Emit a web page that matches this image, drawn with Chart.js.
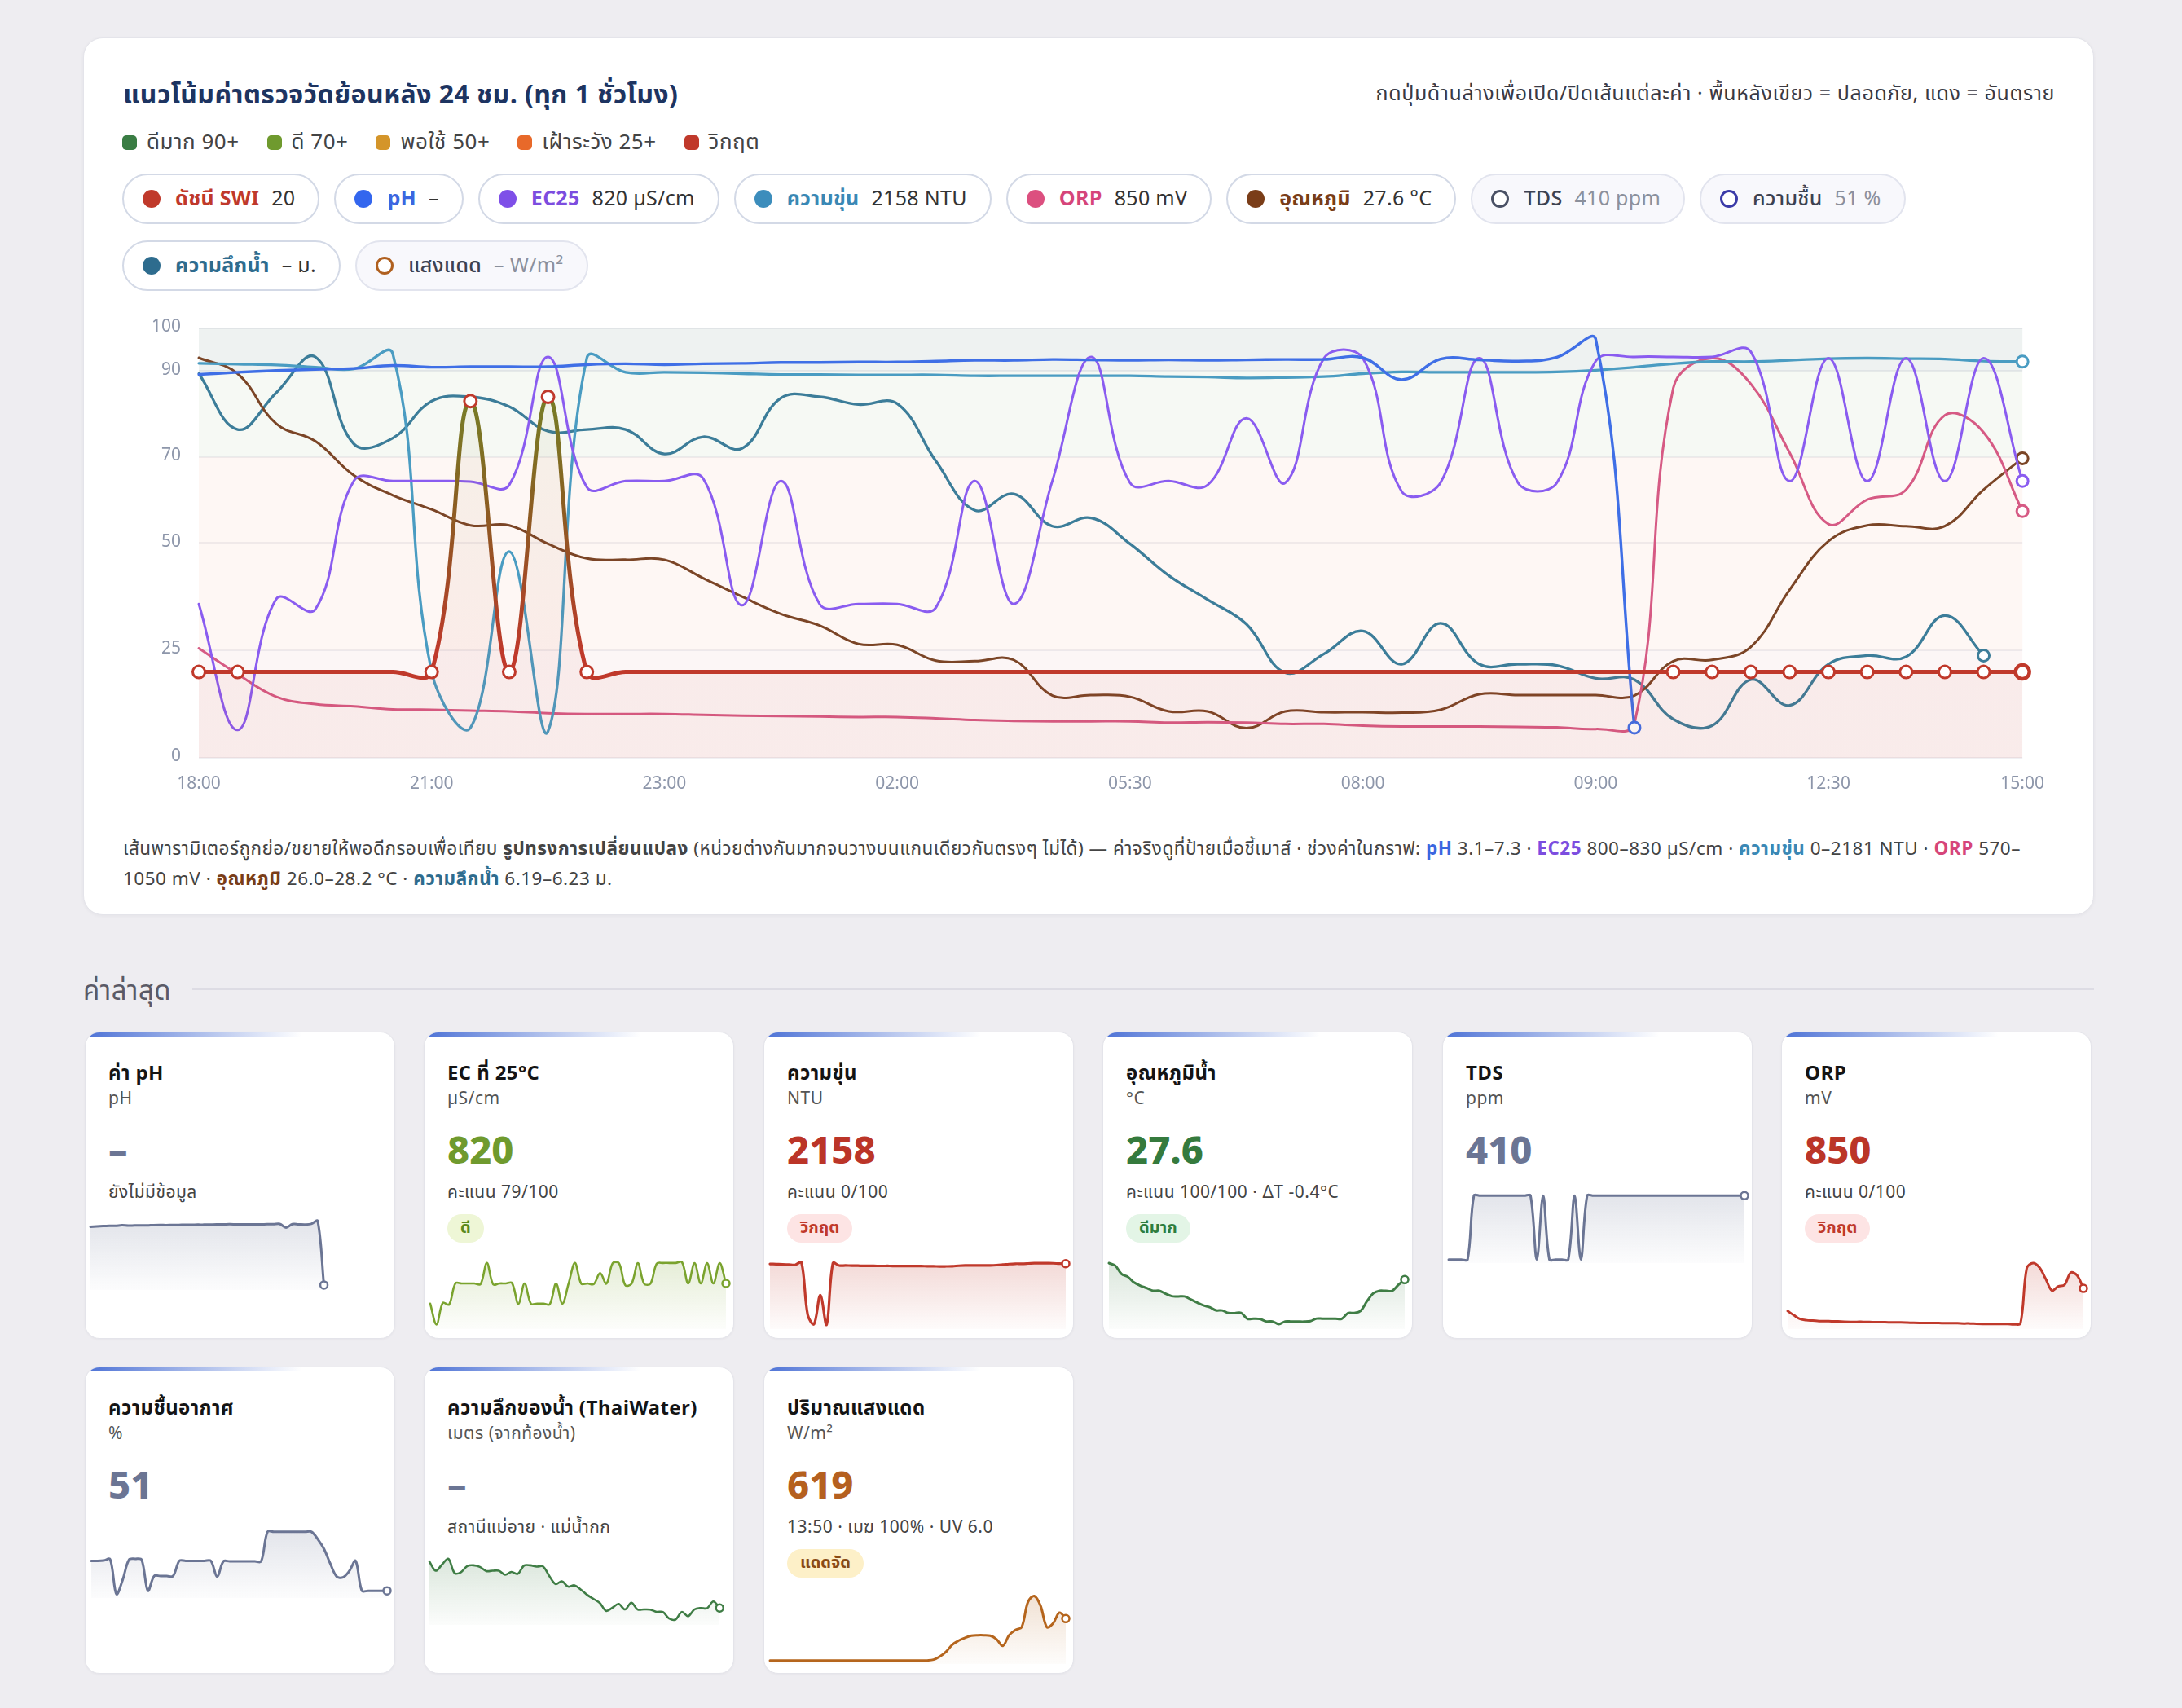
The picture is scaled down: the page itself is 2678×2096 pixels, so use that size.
<!DOCTYPE html>
<html lang="th">
<head>
<meta charset="utf-8">
<script src="https://cdn.jsdelivr.net/npm/chart.js@4.4.1/dist/chart.umd.min.js"></script>
<style>
html,body{margin:0;padding:0;}
body{width:2678px;height:2096px;background:#eeedf1;position:relative;overflow:hidden;
  font-family:"Noto Sans Thai","Noto Sans",sans-serif;color:#222;}
.main{position:absolute;left:102px;top:46px;width:2468px;height:1077px;background:#fff;border-radius:24px;
  border:1px solid #e4e4ea;box-sizing:border-box;box-shadow:0 1px 4px rgba(30,30,60,0.05);}
.title{position:absolute;left:151px;top:95px;font-size:32px;line-height:44px;font-weight:700;color:#1d3461;white-space:nowrap;letter-spacing:0.45px;}
.hint{position:absolute;right:156px;top:98px;font-size:25px;line-height:34px;color:#3a3a44;white-space:nowrap;letter-spacing:0.6px;}
.legend{position:absolute;left:150px;top:156px;height:38px;display:flex;align-items:center;gap:34px;font-size:26px;color:#444;white-space:nowrap;letter-spacing:0.5px;}
.legend span.sq{display:inline-block;width:18px;height:18px;border-radius:5px;margin-right:12px;vertical-align:-1px;}
.chips{position:absolute;left:150px;top:213px;width:2370px;display:flex;flex-wrap:wrap;gap:20px 18px;}
.chip{height:62px;box-sizing:border-box;border:2px solid #d3d9e6;border-radius:31px;padding:0 28px 0 23px;display:flex;align-items:center;background:#fff;font-size:25px;white-space:nowrap;letter-spacing:0.3px;}
.chip .dot{width:22px;height:22px;border-radius:50%;margin-right:18px;box-sizing:border-box;flex:none;}
.chip b{font-weight:700;margin-right:15px;}
.chip .val{color:#333;}
.chip.off{background:#f8f8fc;border-color:#e2e4ee;}
.chip.off .dot{background:#fff;border:3.5px solid;}
.chip.off b{font-weight:500;color:#3c4150;}
.chip.off .val{color:#8b909c;}
.chartbox{position:absolute;left:150px;top:368px;width:2380px;height:622px;}
.note{position:absolute;left:151px;top:1024px;width:2372px;font-size:22.5px;line-height:37px;color:#444;letter-spacing:0.5px;}
.note b{font-weight:700;}
.sec{position:absolute;left:102px;top:1196px;font-size:33px;line-height:42px;color:#5a5a66;letter-spacing:0.5px;}
.secline{position:absolute;left:236px;top:1213px;width:2334px;height:2px;background:#dddce4;}
.mcard{position:absolute;width:381px;height:377px;background:#fff;border-radius:18px;border:1px solid #e4e4ea;
  box-sizing:border-box;overflow:hidden;padding-top:36px;box-shadow:0 1px 3px rgba(30,30,60,0.04);}
.mcard .accent{position:absolute;left:0;top:0;width:100%;height:5px;
  background:linear-gradient(90deg,#4d72d6 0%,rgba(110,140,220,0.55) 38%,rgba(255,255,255,0) 70%);}
.mcard .t{margin-left:28px;font-size:24px;font-weight:700;line-height:30px;color:#141414;white-space:nowrap;letter-spacing:0.4px;}
.mcard .u{margin-left:28px;font-size:21px;line-height:26px;color:#555;margin-top:3px;white-space:nowrap;letter-spacing:0.5px;}
.mcard .v{margin-left:28px;font-size:47px;font-weight:800;line-height:60px;margin-top:22px;}
.mcard .s{margin-left:28px;font-size:21px;line-height:26px;color:#444;margin-top:7px;white-space:nowrap;letter-spacing:0.5px;}
.mcard .bw{margin:13px 0 3px 28px;height:35px;}
.mcard .b{display:inline-block;height:35px;line-height:35px;padding:0 16px;border-radius:18px;font-size:20px;font-weight:700;}
.mcard canvas{display:block;margin-top:10px;}
</style>
</head>
<body>
<div class="main"></div>
<div class="title">แนวโน้มค่าตรวจวัดย้อนหลัง 24 ชม. (ทุก 1 ชั่วโมง)</div>
<div class="hint">กดปุ่มด้านล่างเพื่อเปิด/ปิดเส้นแต่ละค่า · พื้นหลังเขียว = ปลอดภัย, แดง = อันตราย</div>
<div class="legend">
  <div><span class="sq" style="background:#3a7d44"></span>ดีมาก 90+</div>
  <div><span class="sq" style="background:#6f9a2e"></span>ดี 70+</div>
  <div><span class="sq" style="background:#d4952a"></span>พอใช้ 50+</div>
  <div><span class="sq" style="background:#e8692a"></span>เฝ้าระวัง 25+</div>
  <div><span class="sq" style="background:#c0392b"></span>วิกฤต</div>
</div>
<div class="chips">
  <div class="chip"><span class="dot" style="background:#c0392b"></span><b style="color:#c0392b">ดัชนี SWI</b><span class="val">20</span></div>
  <div class="chip"><span class="dot" style="background:#3366ee"></span><b style="color:#3b66e0">pH</b><span class="val">–</span></div>
  <div class="chip"><span class="dot" style="background:#7e4fe8"></span><b style="color:#7c4ddf">EC25</b><span class="val">820 µS/cm</span></div>
  <div class="chip"><span class="dot" style="background:#3c8dbc"></span><b style="color:#3a88b5">ความขุ่น</b><span class="val">2158 NTU</span></div>
  <div class="chip"><span class="dot" style="background:#dc4f7f"></span><b style="color:#d6457a">ORP</b><span class="val">850 mV</span></div>
  <div class="chip"><span class="dot" style="background:#7a3d18"></span><b style="color:#7a3d18">อุณหภูมิ</b><span class="val">27.6 °C</span></div>
  <div class="chip off"><span class="dot" style="border-color:#4a5165"></span><b>TDS</b><span class="val">410 ppm</span></div>
  <div class="chip off"><span class="dot" style="border-color:#3b3ba8"></span><b>ความชื้น</b><span class="val">51 %</span></div>
  <div class="chip"><span class="dot" style="background:#2e6c8e"></span><b style="color:#2e6c8e">ความลึกน้ำ</b><span class="val">– ม.</span></div>
  <div class="chip off"><span class="dot" style="border-color:#b0601f"></span><b>แสงแดด</b><span class="val">– W/m²</span></div>
</div>
<div class="chartbox"><canvas id="trend" width="2380" height="622"></canvas></div>
<div class="note">เส้นพารามิเตอร์ถูกย่อ/ขยายให้พอดีกรอบเพื่อเทียบ <b>รูปทรงการเปลี่ยนแปลง</b> (หน่วยต่างกันมากจนวางบนแกนเดียวกันตรงๆ ไม่ได้) — ค่าจริงดูที่ป้ายเมื่อชี้เมาส์ · ช่วงค่าในกราฟ: <b style="color:#3b66e0">pH</b> 3.1–7.3 · <b style="color:#7c4ddf">EC25</b> 800–830 µS/cm · <b style="color:#3a88b5">ความขุ่น</b> 0–2181 NTU · <b style="color:#d6457a">ORP</b> 570–1050 mV · <b style="color:#7a3d18">อุณหภูมิ</b> 26.0–28.2 °C · <b style="color:#2e6c8e">ความลึกน้ำ</b> 6.19–6.23 ม.</div>
<div class="sec">ค่าล่าสุด</div>
<div class="secline"></div>

<div class="mcard" style="left:104px;top:1266px"><div class="accent"></div>
  <div class="t">ค่า pH</div><div class="u">pH</div><div class="v" style="color:#6b7594">–</div>
  <div class="s">ยังไม่มีข้อมูล</div><canvas id="sp-ph" width="379" height="105"></canvas></div>
<div class="mcard" style="left:520px;top:1266px"><div class="accent"></div>
  <div class="t">EC ที่ 25°C</div><div class="u">µS/cm</div><div class="v" style="color:#6f9a2e">820</div>
  <div class="s">คะแนน 79/100</div><div class="bw"><span class="b" style="background:#eef6d6;color:#5b8a1f">ดี</span></div>
  <canvas id="sp-ec" width="379" height="105"></canvas></div>
<div class="mcard" style="left:937px;top:1266px"><div class="accent"></div>
  <div class="t">ความขุ่น</div><div class="u">NTU</div><div class="v" style="color:#bb3528">2158</div>
  <div class="s">คะแนน 0/100</div><div class="bw"><span class="b" style="background:#fde4e4;color:#c0392b">วิกฤต</span></div>
  <canvas id="sp-turb" width="379" height="105"></canvas></div>
<div class="mcard" style="left:1353px;top:1266px"><div class="accent"></div>
  <div class="t">อุณหภูมิน้ำ</div><div class="u">°C</div><div class="v" style="color:#357a3d">27.6</div>
  <div class="s">คะแนน 100/100 · ΔT -0.4°C</div><div class="bw"><span class="b" style="background:#e3f5e6;color:#2e7d3e">ดีมาก</span></div>
  <canvas id="sp-temp" width="379" height="105"></canvas></div>
<div class="mcard" style="left:1770px;top:1266px"><div class="accent"></div>
  <div class="t">TDS</div><div class="u">ppm</div><div class="v" style="color:#6b7594">410</div>
  <canvas id="sp-tds" width="379" height="105"></canvas></div>
<div class="mcard" style="left:2186px;top:1266px"><div class="accent"></div>
  <div class="t">ORP</div><div class="u">mV</div><div class="v" style="color:#bb3528">850</div>
  <div class="s">คะแนน 0/100</div><div class="bw"><span class="b" style="background:#fde4e4;color:#c0392b">วิกฤต</span></div>
  <canvas id="sp-orp" width="379" height="105"></canvas></div>
<div class="mcard" style="left:104px;top:1677px"><div class="accent"></div>
  <div class="t">ความชื้นอากาศ</div><div class="u">%</div><div class="v" style="color:#6b7594">51</div>
  <canvas id="sp-hum" width="379" height="105"></canvas></div>
<div class="mcard" style="left:520px;top:1677px"><div class="accent"></div>
  <div class="t">ความลึกของน้ำ (ThaiWater)</div><div class="u">เมตร (จากท้องน้ำ)</div><div class="v" style="color:#6b7594">–</div>
  <div class="s">สถานีแม่อาย · แม่น้ำกก</div><canvas id="sp-depth" width="379" height="105"></canvas></div>
<div class="mcard" style="left:937px;top:1677px"><div class="accent"></div>
  <div class="t">ปริมาณแสงแดด</div><div class="u">W/m²</div><div class="v" style="color:#b5601f">619</div>
  <div class="s">13:50 · เมฆ 100% · UV 6.0</div><div class="bw"><span class="b" style="background:#fdf0c8;color:#8a4b14">แดดจัด</span></div>
  <canvas id="sp-sun" width="379" height="105"></canvas></div>

<script>
// ---------- data ----------
const timeLabels = ['18:00','18:30','19:00','19:30','20:00','20:30','21:00','21:20','21:40','22:00','22:20','22:40',
  '23:00','23:30','00:00','00:30','01:00','01:30','02:00','02:30','03:00','03:30','04:00','04:30',
  '05:30','06:00','06:30','07:00','07:20','07:40','08:00','08:10','08:20','08:30','08:40','08:50',
  '09:00','09:30','10:00','10:30','11:00','11:30','12:30','13:00','13:30','14:00','14:30','15:00'];
const labelStep = 6;
const yTickValues = [0, 25, 50, 70, 90, 100];
const bandLimits = [0, 25, 70, 90, 100];

const swiScore = [20,20,20,20,20,20,20,83,20,84,20,20,20,20,20,20,20,20,20,20,20,20,20,20,
  20,20,20,20,20,20,20,20,20,20,20,20,20,20,20,20,20,20,20,20,20,20,20,20];
const swiMarked = [0,1,6,7,8,9,10,38,39,40,41,42,43,44,45,46,47];

const phLine = [89.2,89.7,90.1,90.4,90.6,91.3,90.9,91.0,91.0,91.0,91.5,91.7,91.5,91.7,91.8,92.0,
  92.0,92.1,92.1,92.3,92.5,92.5,92.7,92.6,92.5,92.6,92.5,92.6,92.7,92.7,93.1,88.0,
  92.8,92.6,92.3,93.2,97.5,7.0,null,null,null,null,null,null,null,null,null,null];
const ec25Line = [35.8,6.5,37,34.5,64.5,64.4,64.4,64.3,63.5,93.3,63,64.4,64.4,65,35.5,64.4,
  35.8,35.8,35.8,35,64.4,35.8,64.5,93.3,64,64.4,63.5,79,64,93,93,62,
  64,93,64,64,92.3,93.3,93.3,93.3,94.5,64.4,93,64.4,93,64.4,93,64.4];
const turbLine = [91.8,91.6,91.4,90.9,90.5,94,20,7,48,6.2,93,89.7,89.7,89.6,89.4,89.2,
  89.2,89.1,89.1,89.1,88.9,88.9,88.9,88.9,88.9,88.7,88.6,88.4,88.5,88.7,89.4,89.8,
  89.7,89.7,89.7,89.8,90.2,90.9,91.7,92.2,92.2,92.5,92.9,93.0,92.9,92.8,92.3,92.2];
const orpLine = [25.5,19.5,14.2,12.5,12,11.3,11.2,11,10.8,10.4,10.2,10.2,10.2,10,9.8,9.7,
  9.6,9.5,9.5,9.2,8.8,8.6,8.5,8.5,8.5,8.2,8.3,8.2,7.9,7.9,7.5,7.3,
  7.3,7.3,7.2,7.1,6.7,8,86,93,87,71,54.4,60.1,62.4,79.7,75.7,57.4];
const tempLine = [93.1,89.4,77.7,73.7,65.7,61.1,57.8,54.1,54.1,49.8,46.4,46.1,46.1,41.8,37.5,33.5,
  30.8,26.5,26.3,22.6,22.5,22.8,14.5,14.6,14.2,10.8,10.8,6.9,10.8,10.6,10.6,10.5,
  11.2,14.8,14.6,14.6,14.6,14.5,22.5,22.8,25.8,39.1,50.4,54.1,53.9,53.9,62.4,69.7];
const depthLine = [89.4,76.4,85,93.3,73,74.4,83,84,81.7,76,76.4,76.4,70.7,74.7,72,83.7,
  84,82.2,82.4,69,57.6,61.4,53.9,55.8,49.8,42.4,36.8,31.1,19.8,24.2,29.5,21.8,
  31.3,21.8,21.8,21.5,18.5,18.2,9,7.5,18.2,12.2,21.8,23.8,23.5,33.1,23.8,null];
const tdsLine = [5,5,5,5,95,95,95,95,95,95,95,95,95,95,5,95,
  5,5,5,5,95,5,95,95,95,95,95,95,95,95,95,95,
  95,95,95,95,95,95,95,95,95,95,95,95,95,95,95,95];
const humLine = [52.4,52.4,53,54.5,5.5,26,54,55.2,54,10.2,31,31,31,31,52.4,52.4,
  52.4,52.4,52.4,52.4,30.3,51.7,51.7,51.7,51.7,51.7,51.7,51.7,93.3,93.3,93.3,93.3,
  93.3,93.3,93.3,93.3,83,69,48,30.3,29.2,38,52.4,10.2,10.2,10.2,10.2,10.2];
const sunLine = [5,5,5,5,5,5,5,5,5,5,5,5,5,5,5,5,
  5,5,5,5,5,5,5,5,5,5,6.1,10.6,17.4,27.5,33,36.9,
  39.9,40.6,40.6,39.9,35,25.6,40.6,48,52,87.5,96,82,52,57.5,72.5,64];

// ---------- helpers ----------
Chart.defaults.font.family = '"Noto Sans Thai","Noto Sans",sans-serif';
function lastIdx(arr){ for(let i=arr.length-1;i>=0;i--){ if(arr[i]!==null && arr[i]!==undefined) return i; } return -1; }
function rgba(hex,a){ const n=parseInt(hex.slice(1),16); return `rgba(${(n>>16)&255},${(n>>8)&255},${n&255},${a})`; }

const swiStops = [[0,'#c0392b'],[0.24,'#c0392b'],[0.45,'#9c4f25'],[0.6,'#8a5f22'],[0.74,'#7d7424'],[0.85,'#767d27'],[1,'#4f7f33']];
function swiGradient(chart, alpha){
  const {ctx, chartArea, scales} = chart;
  if(!chartArea) return null;
  const y = scales.y;
  const g = ctx.createLinearGradient(0, y.getPixelForValue(0), 0, y.getPixelForValue(100));
  swiStops.forEach(([p,c]) => g.addColorStop(p, alpha===1 ? c : rgba(c, alpha)));
  return g;
}

const bandsPlugin = {
  id: 'bands',
  beforeDraw(chart){
    const {ctx, chartArea, scales:{y}} = chart;
    if(!chartArea) return;
    const colors = ['rgba(192,57,43,0.045)','rgba(232,105,42,0.05)','rgba(110,150,60,0.06)','rgba(60,110,90,0.085)'];
    ctx.save();
    for(let i=0;i<bandLimits.length-1;i++){
      const top = y.getPixelForValue(bandLimits[i+1]);
      const bot = y.getPixelForValue(bandLimits[i]);
      ctx.fillStyle = colors[i];
      ctx.fillRect(chartArea.left, top, chartArea.right-chartArea.left, bot-top);
    }
    ctx.restore();
  }
};

function lineDs(label, data, color, width, extra){
  const last = lastIdx(data);
  return Object.assign({
    label, data, borderColor: color, borderWidth: width, tension: 0.4, fill: false,
    pointRadius: c => c.dataIndex === last ? 7 : 0,
    pointHoverRadius: 0, pointBackgroundColor: '#fff', pointBorderColor: color, pointBorderWidth: 3,
    borderCapStyle: 'round', borderJoinStyle: 'round'
  }, extra || {});
}

// ---------- main trend chart ----------
new Chart(document.getElementById('trend'), {
  type: 'line',
  data: {
    labels: timeLabels,
    datasets: [
      {
        label: 'ดัชนี SWI', data: swiScore, borderWidth: 5, tension: 0.4,
        borderColor: c => swiGradient(c.chart, 1) || '#c0392b',
        backgroundColor: c => swiGradient(c.chart, 0.06) || 'rgba(192,57,43,0.05)',
        fill: 'origin',
        pointRadius: c => swiMarked.includes(c.dataIndex) ? (c.dataIndex === swiScore.length-1 ? 8.5 : 7.5) : 0,
        pointBorderWidth: c => c.dataIndex === swiScore.length-1 ? 4.5 : 3,
        pointBackgroundColor: '#fff', pointBorderColor: '#c0392b', pointHoverRadius: 0,
        borderCapStyle: 'round', borderJoinStyle: 'round'
      },
      lineDs('pH', phLine, '#3f6fe6', 3.4),
      lineDs('EC25', ec25Line, '#8a5cf0', 3),
      lineDs('ความขุ่น', turbLine, '#4a9cc2', 3.3),
      lineDs('ORP', orpLine, '#d65a84', 3),
      lineDs('อุณหภูมิ', tempLine, '#7b4526', 3),
      lineDs('TDS', tdsLine, '#4a5165', 3, {hidden: true}),
      lineDs('ความชื้น', humLine, '#3b3ba8', 3, {hidden: true}),
      lineDs('ความลึกน้ำ', depthLine, '#3c7d99', 3.3),
      lineDs('แสงแดด', sunLine, '#b0601f', 3, {hidden: true})
    ]
  },
  options: {
    responsive: false, animation: false, events: [],
    layout: { padding: { top: 0, right: 0, left: 0, bottom: 0 } },
    plugins: { legend: { display: false }, tooltip: { enabled: false } },
    scales: {
      x: {
        afterFit: s => { s.height = 60; },
        grid: { display: false, drawTicks: false }, border: { display: false },
        ticks: {
          autoSkip: false, maxRotation: 0, padding: 21, color: '#8d96aa', font: { size: 21 },
          callback: (v, i) => (i % labelStep === 0 || i === timeLabels.length - 1) ? timeLabels[i] : ''
        }
      },
      y: {
        min: 0, max: 100,
        afterBuildTicks: s => { s.ticks = yTickValues.map(v => ({ value: v })); },
        afterFit: s => { s.width = 94; },
        grid: { color: 'rgba(60,60,100,0.08)', lineWidth: 2, drawTicks: false },
        border: { display: false },
        ticks: { padding: 22, color: '#8d96aa', font: { size: 21 } }
      }
    }
  },
  plugins: [bandsPlugin]
});

// ---------- sparklines ----------
function spark(id, data, color, width){
  const last = lastIdx(data);
  new Chart(document.getElementById(id), {
    type: 'line',
    data: { labels: timeLabels, datasets: [{
      data, borderColor: color, borderWidth: width || 2.6, tension: 0.35, clip: false,
      fill: 'start',
      backgroundColor: c => {
        const ch = c.chart, a = ch.chartArea;
        if(!a) return rgba(color, 0.1);
        const g = ch.ctx.createLinearGradient(0, a.top, 0, ch.height);
        g.addColorStop(0, rgba(color, 0.2)); g.addColorStop(1, rgba(color, 0));
        return g;
      },
      pointRadius: c => c.dataIndex === last ? 4.5 : 0,
      pointBackgroundColor: '#fff', pointBorderColor: color, pointBorderWidth: 2.5, pointHoverRadius: 0,
      borderCapStyle: 'round', borderJoinStyle: 'round'
    }]},
    options: {
      responsive: false, animation: false, events: [],
      layout: { padding: { left: 6, right: 9, top: 9, bottom: 9 } },
      plugins: { legend: { display: false }, tooltip: { enabled: false } },
      scales: { x: { display: false }, y: { display: false } }
    }
  });
}
spark('sp-ph', phLine, '#6b7594', 3);
spark('sp-ec', ec25Line, '#7aa32e', 2.6);
spark('sp-turb', turbLine, '#c0392b', 3.2);
spark('sp-temp', tempLine, '#3f7d45', 3);
spark('sp-tds', tdsLine, '#6b7594', 3);
spark('sp-orp', orpLine, '#c0392b', 3);
spark('sp-hum', humLine, '#6b7594', 3);
spark('sp-depth', depthLine, '#3f7d45', 2.6);
spark('sp-sun', sunLine, '#b5651d', 3);
</script>
</body>
</html>
